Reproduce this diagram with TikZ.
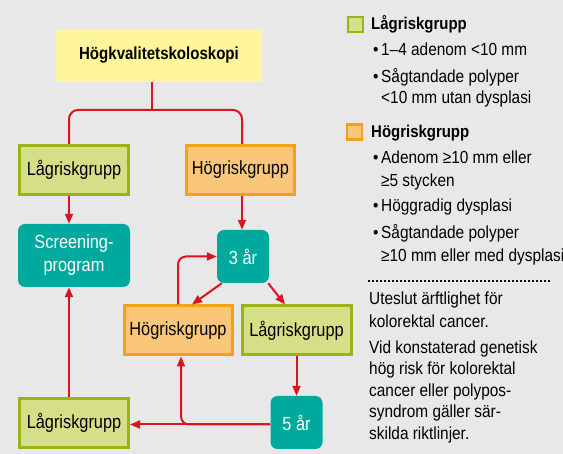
\documentclass[tikz,border=0pt]{standalone}
\usepackage{fontspec}
\setmainfont{Liberation Sans}[FakeStretch=0.86]
\newfontfamily\legfont{Liberation Sans}[FakeStretch=0.88]
\usetikzlibrary{arrows.meta}
\definecolor{bg}{HTML}{E8E8E8}
\definecolor{yel}{HTML}{FFF59B}
\definecolor{lowfill}{HTML}{D4DF87}
\definecolor{lowline}{HTML}{98B41A}
\definecolor{highfill}{HTML}{FAC77A}
\definecolor{highline}{HTML}{F5A01A}
\definecolor{teal}{HTML}{00A99D}
\definecolor{rline}{HTML}{D9161F}
\tikzset{
  boxtext/.style={font=\fontsize{19}{21}\selectfont},
  yellowbox/.style={fill=yel, inner sep=0, minimum width=206, minimum height=53, font=\fontsize{17.5}{20}\selectfont\bfseries},
  lowbox/.style={boxtext, fill=lowfill, draw=lowline, line width=3pt, inner sep=0, minimum width=109, minimum height=49},
  highbox/.style={boxtext, fill=highfill, draw=highline, line width=3pt, inner sep=0, minimum width=108, minimum height=49},
  tealbox/.style={boxtext, fill=teal, text=white, rounded corners=7pt, inner sep=0, minimum width=52, minimum height=53},
  conn/.style={draw=rline, line width=2pt},
  arr/.style={conn, -{Triangle[length=10pt,width=8pt]}},
  legh/.style={anchor=base west, inner sep=0, font=\legfont\fontsize{17}{19}\selectfont\bfseries},
  legt/.style={anchor=base west, inner sep=0, font=\legfont\fontsize{17.5}{19}\selectfont},
  legsq/.style={inner sep=0, minimum size=15, line width=2.5pt}
}
\begin{document}
\begin{tikzpicture}[x=1pt,y=-1pt]
\useasboundingbox (0,0) rectangle (563,454);
\fill[bg] (0,0) rectangle (563,454);

% flow nodes
\node[yellowbox] (top) at (159,55.5) {Högkvalitetskoloskopi};
\node[lowbox] (l1) at (74,170) {Lågriskgrupp};
\node[highbox] (h1) at (240.5,170) {Högriskgrupp};
\node[tealbox, minimum width=112, minimum height=63, align=center, font=\fontsize{19}{23}\selectfont] (scr) at (74,255.5) {Screening-\\program};
\node[tealbox] (t3) at (243,256.5) {3 år};
\node[highbox] (h2) at (178,330.5) {Högriskgrupp};
\node[lowbox] (l2) at (296.5,330.5) {Lågriskgrupp};
\node[tealbox] (t5) at (296.5,422.5) {5 år};
\node[lowbox] (l3) at (74,423) {Lågriskgrupp};

% connectors
\coordinate (stem) at (152,110);
\draw[conn] ([xshift=-7]top.south) -- (stem);
\draw[conn, rounded corners=9pt] ([xshift=-5]l1.north) |- (stem) -| ([xshift=1.5]h1.north);
\draw[arr] ([xshift=-5]l1.south) -- ([xshift=-5]scr.north);
\draw[arr] ([xshift=1.5]h1.south) -- ([xshift=1.5]h1.south |- t3.north);
\draw[arr] ([xshift=5]t3.south west) -- ([xshift=14]h2.north);
\draw[arr] ([xshift=-1]t3.south east) -- ([xshift=-11.5]l2.north);
\draw[arr, rounded corners=8pt] (h2.north) |- (t3.west);
\draw[arr] (l2.south) -- (t5.north);
\draw[arr] ([yshift=-2]t5.west) -- ([yshift=-2]t5.west -| l3.east);
\draw[arr, rounded corners=8pt] ([yshift=-2]t5.west) -| ([xshift=3]h2.south);
\draw[arr] ([xshift=-5]l3.north) -- ([xshift=-5]scr.south);

% legend
\node[legsq, fill=lowfill, draw=lowline] (lg) at (355.5,24.5) {};
\node[legh] (lgh) at (371,30) {Lågriskgrupp};
\node[legt] (b1) at (373,56) {•};
\node[legt] (t1) at (381,56) {1–4 adenom <10 mm};
\node[legt] (b2) at (373,83) {•};
\node[legt] (t2) at (381,83) {Sågtandade polyper};
\node[legt] (t2b) at (381,104) {<10 mm utan dysplasi};

\node[legsq, fill=highfill, draw=highline] (hg) at (354.5,132) {};
\node[legh] (hgh) at (371,138) {Högriskgrupp};
\node[legt] (b3) at (373,164) {•};
\node[legt] (t3t) at (381,164) {Adenom ≥10 mm eller};
\node[legt] (t3b) at (381,187) {≥5 stycken};
\node[legt] (b4) at (373,212) {•};
\node[legt] (t4) at (381,212) {Höggradig dysplasi};
\node[legt] (b5) at (373,239) {•};
\node[legt] (t5t) at (381,239) {Sågtandade polyper};
\node[legt] (t5b) at (381,262) {≥10 mm eller med dysplasi};

\coordinate (d1) at (368,281);
\coordinate (d2) at (551,281);
\draw[line width=1.6pt, dash pattern=on 1.6pt off 2.4pt] (d1) -- (d2);

\node[legt] (n1) at (369,305) {Uteslut ärftlighet för};
\node[legt] (n2) at (369,328) {kolorektal cancer.};
\node[legt] (n3) at (369,354) {Vid konstaterad genetisk};
\node[legt] (n4) at (369,375) {hög risk för kolorektal};
\node[legt] (n5) at (369,397) {cancer eller polypos-};
\node[legt] (n6) at (369,418) {syndrom gäller sär-};
\node[legt] (n7) at (369,440) {skilda riktlinjer.};
\end{tikzpicture}
\end{document}
